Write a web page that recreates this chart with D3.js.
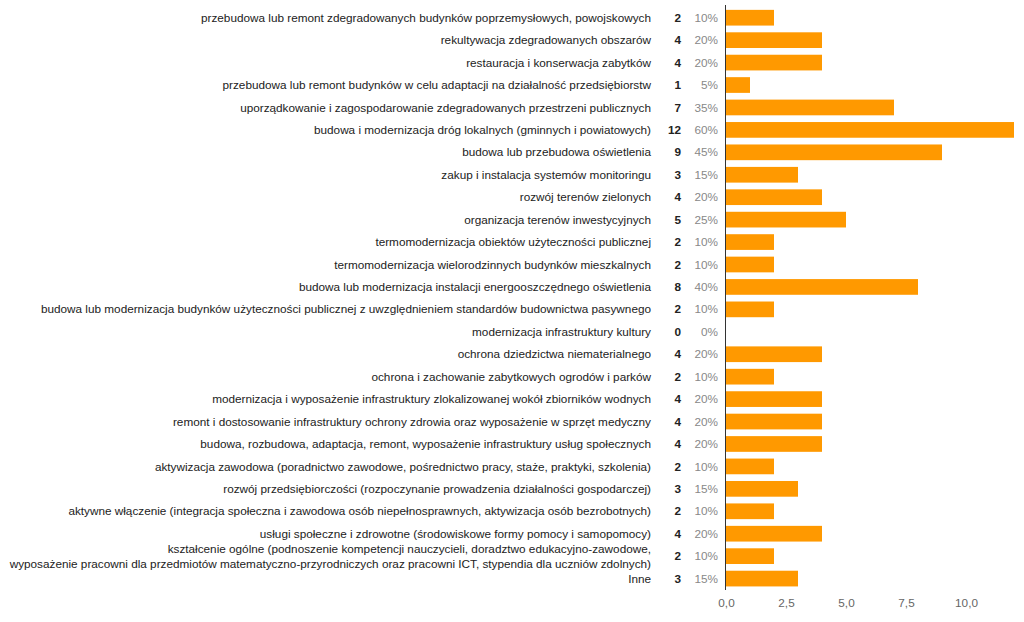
<!DOCTYPE html>
<html>
<head>
<meta charset="utf-8">
<script src="https://cdn.jsdelivr.net/npm/d3@7"></script>
<style>
  body { margin: 0; background: #fff; }
  svg text { font-family: "Liberation Sans", Arial, sans-serif; }
</style>
</head>
<body>
<div id="chart"></div>
<script>
const w = 1024
const h = 622
const barColor = '#ff9900'
const fs = 11.75

const labels = [
  'przebudowa lub remont zdegradowanych budynków poprzemysłowych, powojskowych',
  'rekultywacja zdegradowanych obszarów',
  'restauracja i konserwacja zabytków',
  'przebudowa lub remont budynków w celu adaptacji na działalność przedsiębiorstw',
  'uporządkowanie i zagospodarowanie zdegradowanych przestrzeni publicznych',
  'budowa i modernizacja dróg lokalnych (gminnych i powiatowych)',
  'budowa lub przebudowa oświetlenia',
  'zakup i instalacja systemów monitoringu',
  'rozwój terenów zielonych',
  'organizacja terenów inwestycyjnych',
  'termomodernizacja obiektów użyteczności publicznej',
  'termomodernizacja wielorodzinnych budynków mieszkalnych',
  'budowa lub modernizacja instalacji energooszczędnego oświetlenia',
  'budowa lub modernizacja budynków użyteczności publicznej z uwzględnieniem standardów budownictwa pasywnego',
  'modernizacja infrastruktury kultury',
  'ochrona dziedzictwa niematerialnego',
  'ochrona i zachowanie zabytkowych ogrodów i parków',
  'modernizacja i wyposażenie infrastruktury zlokalizowanej wokół zbiorników wodnych',
  'remont i dostosowanie infrastruktury ochrony zdrowia oraz wyposażenie w sprzęt medyczny',
  'budowa, rozbudowa, adaptacja, remont, wyposażenie infrastruktury usług społecznych',
  'aktywizacja zawodowa (poradnictwo zawodowe, pośrednictwo pracy, staże, praktyki, szkolenia)',
  'rozwój przedsiębiorczości (rozpoczynanie prowadzenia działalności gospodarczej)',
  'aktywne włączenie (integracja społeczna i zawodowa osób niepełnosprawnych, aktywizacja osób bezrobotnych)',
  'usługi społeczne i zdrowotne (środowiskowe formy pomocy i samopomocy)',
  'kształcenie ogólne (podnoszenie kompetencji nauczycieli, doradztwo edukacyjno-zawodowe,|wyposażenie pracowni dla przedmiotów matematyczno-przyrodniczych oraz pracowni ICT, stypendia dla uczniów zdolnych)',
  'Inne'
]
const counts = [2, 4, 4, 1, 7, 12, 9, 3, 4, 5, 2, 2, 8, 2, 0, 4, 2, 4, 4, 4, 2, 3, 2, 4, 2, 3]
const percents = ['10%', '20%', '20%', '5%', '35%', '60%', '45%', '15%', '20%', '25%', '10%', '10%', '40%', '10%', '0%', '20%', '10%', '20%', '20%', '20%', '10%', '15%', '10%', '20%', '10%', '15%']
const xTicks = [0, 2.5, 5, 7.5, 10]

const rows = labels.map((l, i) => ({ label: l, count: counts[i], pct: percents[i], i: i }))

const svg = d3.select('#chart')
    .append('svg')
    .attr('width', w)
    .attr('height', h)

const xScale = d3.scaleLinear()
    .domain([0, 12])
    .range([726, 1014])

const yScale = d3.scaleBand()
    .domain(d3.range(labels.length))
    .range([6.5, 589.8])
    .paddingInner(0.3)
    .paddingOuter(0.15)

// bars
svg.selectAll('rect.bar')
    .data(rows)
    .enter()
    .append('rect')
    .attr('class', 'bar')
    .attr('x', xScale(0))
    .attr('y', d => yScale(d.i))
    .attr('width', d => xScale(d.count) - xScale(0))
    .attr('height', yScale.bandwidth())
    .attr('fill', barColor)

// category labels (split on | for two-line ones)
const lab = svg.selectAll('text.label')
    .data(rows)
    .enter()
    .append('text')
    .attr('class', 'label')
    .attr('text-anchor', 'end')
    .attr('font-size', fs)
    .attr('fill', '#222')
    .attr('x', 651)
    .attr('y', d => yScale(d.i) + yScale.bandwidth() / 2)

lab.each(function (d) {
    const parts = d.label.split('|')
    const t = d3.select(this)
    parts.forEach((p, k) => {
        t.append('tspan')
            .attr('x', 651)
            .attr('dy', k === 0 ? (parts.length === 1 ? '0.35em' : (0.35 - 0.62) + 'em') : '1.25em')
            .text(p)
    })
})

// counts
svg.selectAll('text.count')
    .data(rows)
    .enter()
    .append('text')
    .attr('class', 'count')
    .attr('text-anchor', 'end')
    .attr('font-size', fs)
    .attr('font-weight', 'bold')
    .attr('fill', '#222')
    .attr('x', 681)
    .attr('y', d => yScale(d.i) + yScale.bandwidth() / 2)
    .attr('dy', '0.35em')
    .text(d => d.count)

// percentages
svg.selectAll('text.pct')
    .data(rows)
    .enter()
    .append('text')
    .attr('class', 'pct')
    .attr('text-anchor', 'end')
    .attr('font-size', fs)
    .attr('fill', '#888')
    .attr('x', 718)
    .attr('y', d => yScale(d.i) + yScale.bandwidth() / 2)
    .attr('dy', '0.35em')
    .text(d => d.pct)

// axis
const xAxis = d3.axisBottom(xScale)
    .tickValues(xTicks)
    .tickSize(0)
    .tickPadding(0)
    .tickFormat(d => d3.format('.1f')(d).replace('.', ','))

const gx = svg.append('g')
    .attr('transform', 'translate(0, 598.5)')
    .call(xAxis)
gx.select('.domain').remove()
gx.selectAll('text')
    .attr('font-size', fs)
    .attr('font-family', '"Liberation Sans", Arial, sans-serif')
    .attr('fill', '#666')
    .attr('dy', '0.71em')

svg.append('line')
    .attr('x1', xScale(0) - 0.5)
    .attr('x2', xScale(0) - 0.5)
    .attr('y1', 5)
    .attr('y2', 590)
    .attr('stroke', '#333')
    .attr('stroke-width', 1)
</script>
</body>
</html>
